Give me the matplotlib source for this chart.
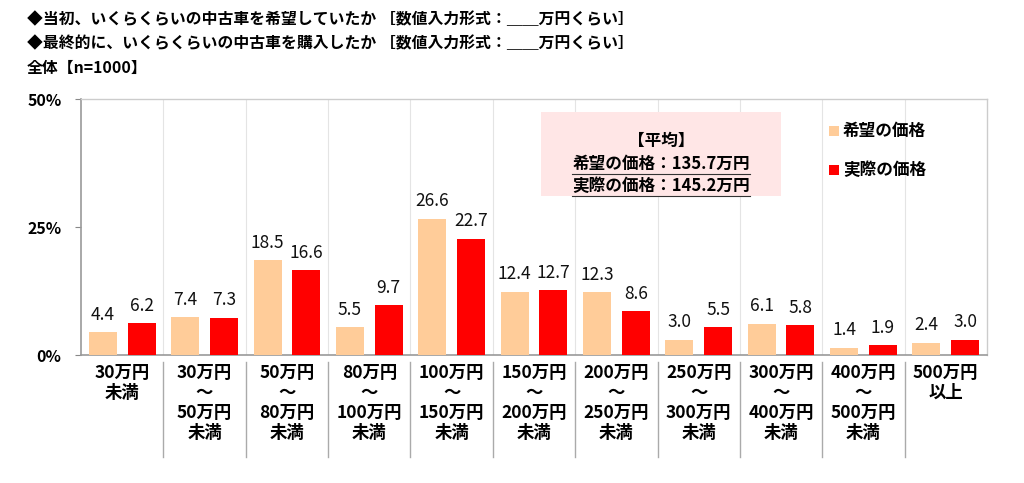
import matplotlib
matplotlib.use("Agg")
import matplotlib.pyplot as plt
from matplotlib.lines import Line2D
from matplotlib.patches import Rectangle
import numpy as np

plt.rcParams['font.family'] = ['Noto Sans CJK JP', 'DejaVu Sans']

categories = ["30万円\n未満", "30万円\n～\n50万円\n未満", "50万円\n～\n80万円\n未満",
              "80万円\n～\n100万円\n未満", "100万円\n～\n150万円\n未満", "150万円\n～\n200万円\n未満",
              "200万円\n～\n250万円\n未満", "250万円\n～\n300万円\n未満", "300万円\n～\n400万円\n未満",
              "400万円\n～\n500万円\n未満", "500万円\n以上"]
hope = [4.4, 7.4, 18.5, 5.5, 26.6, 12.4, 12.3, 3.0, 6.1, 1.4, 2.4]
actual = [6.2, 7.3, 16.6, 9.7, 22.7, 12.7, 8.6, 5.5, 5.8, 1.9, 3.0]
series_names = ["希望の価格", "実際の価格"]
yticks = [0, 25, 50]
ytick_labels = ["0%", "25%", "50%"]
title_lines = ["◆当初、いくらくらいの中古車を希望していたか ［数値入力形式：＿＿万円くらい］",
               "◆最終的に、いくらくらいの中古車を購入したか ［数値入力形式：＿＿万円くらい］",
               "全体【n=1000】"]
avg_title = "【平均】"
avg_lines = ["希望の価格：135.7万円", "実際の価格：145.2万円"]

c_hope = "#FFCC99"
c_act = "#FF0000"

fig = plt.figure(figsize=(10.24, 4.83), dpi=100)
L, R, T, B = 81, 987, 99, 355
W, H = 1024, 483
ax = fig.add_axes([L / W, (H - B) / H, (R - L) / W, (B - T) / H])

n = len(categories)
x = np.arange(n)
bw = 0.34
off = 0.235
b1 = ax.bar(x - off, hope, bw, color=c_hope, zorder=3)
b2 = ax.bar(x + off, actual, bw, color=c_act, zorder=3)
for bars, vals in ((b1, hope), (b2, actual)):
    for rect, v in zip(bars, vals):
        ax.annotate(f"{v:.1f}", (rect.get_x() + rect.get_width() / 2, v),
                    xytext=(0, 6), textcoords="offset points", ha="center", va="bottom",
                    fontsize=12.5, color="#111111")

ax.set_xlim(-0.5, n - 0.5)
ax.set_ylim(0, 50)
ax.set_yticks(yticks)
ax.set_yticklabels(ytick_labels, fontsize=11.5, fontweight="bold")
ax.tick_params(axis="y", length=4, width=0.8, color="#888888", pad=10)
ax.set_xticks([])
for s in ("top", "right"):
    ax.spines[s].set_color("#cccccc")
    ax.spines[s].set_linewidth(1.0)
for s in ("left", "bottom"):
    ax.spines[s].set_color("#999999")
    ax.spines[s].set_linewidth(1.2)

for b in np.arange(0.5, n - 0.5, 1):
    ax.axvline(b, color="#e4e4e4", linewidth=0.8, zorder=1)

trans = ax.get_xaxis_transform()
for i, lab in enumerate(categories):
    ax.text(i, -0.035, lab, transform=trans, ha="center", va="top",
            fontsize=12.5, fontweight="bold", linespacing=1.15)
ybot = -(457 - 355) / (B - T)
ytop = -(362 - 355) / (B - T)
for b in np.arange(0.5, n - 0.5, 1):
    ax.add_line(Line2D([b, b], [ytop, ybot], transform=trans, color="#aaaaaa",
                       linewidth=1.0, clip_on=False))

for i, t in enumerate(title_lines):
    fig.text(27 / W, 1 - (19 + 24.5 * i) / H, t, ha="left", va="center",
             fontsize=11.4, fontweight="bold")

bx0, bx1, by0, by1 = 541, 781, 112, 196
fig.patches.append(Rectangle((bx0 / W, 1 - by1 / H), (bx1 - bx0) / W, (by1 - by0) / H,
                             transform=fig.transFigure, facecolor="#FFE6E6",
                             edgecolor="none", zorder=5))
cx = (bx0 + bx1) / 2 / W
fig.text(cx, 1 - 141 / H, avg_title, ha="center", va="center", fontsize=12,
         fontweight="bold", zorder=6)
for j, t in enumerate(avg_lines):
    fig.text(cx, 1 - (164 + 22 * j) / H, t, ha="center", va="center", fontsize=12,
             fontweight="bold", zorder=6)
    fig.add_artist(Line2D([572 / W, 750 / W], [1 - (174 + 22 * j) / H] * 2,
                          transform=fig.transFigure, color="#333333", linewidth=0.8, zorder=6))

for j, (nm, c) in enumerate(zip(series_names, [c_hope, c_act])):
    yy = 131 + 39 * j
    fig.patches.append(Rectangle((829 / W, 1 - (yy + 5) / H), 10 / W, 10 / H,
                                 transform=fig.transFigure, facecolor=c, edgecolor="none"))
    fig.text(843 / W, 1 - yy / H, nm, ha="left", va="center", fontsize=12,
             fontweight="bold")

fig.savefig("out.png", dpi=100, facecolor="white")
